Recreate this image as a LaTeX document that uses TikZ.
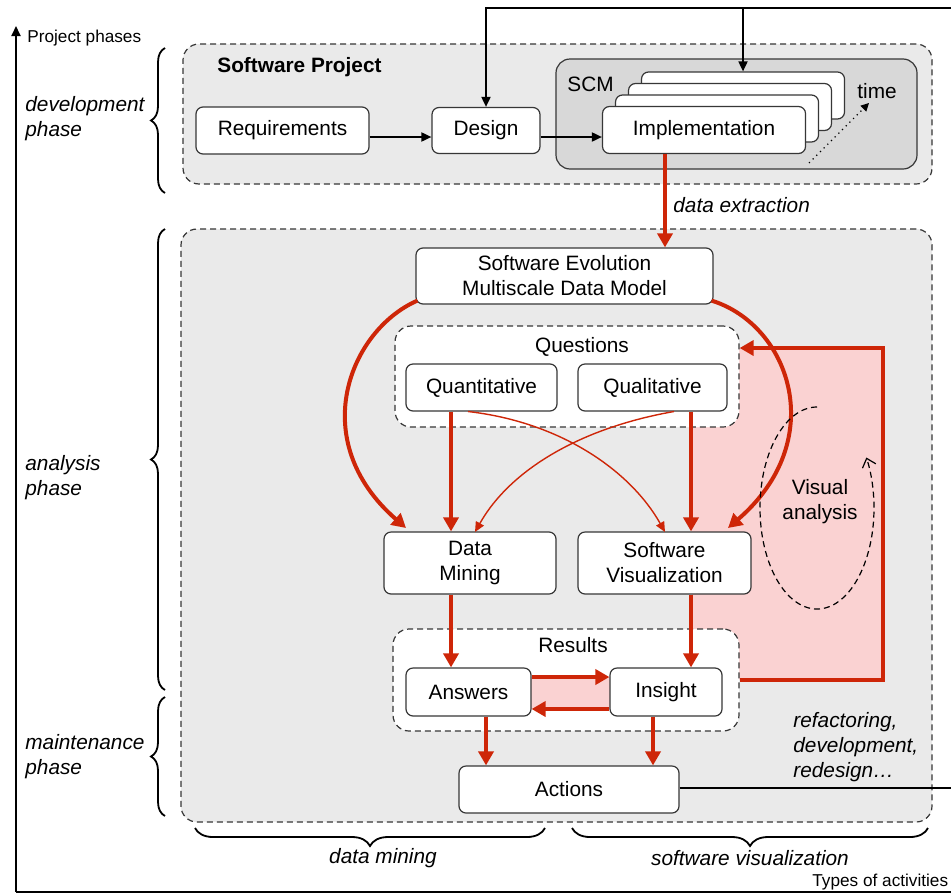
\documentclass[tikz,border=0pt]{standalone}
\usepackage{fontspec}
\setmainfont{Liberation Sans}
\usetikzlibrary{arrows.meta,decorations.pathreplacing}
\definecolor{myred}{RGB}{206,38,8}
\definecolor{bggray}{RGB}{234,234,234}
\definecolor{scmgray}{RGB}{216,216,216}
\definecolor{pinkfill}{RGB}{250,210,210}
\definecolor{edgec}{RGB}{55,55,55}
\newcommand\mainsz{\fontsize{10.4}{12.5}\selectfont}
\newcommand\smallsz{\fontsize{8.6}{10}\selectfont}
\begin{document}
\begin{tikzpicture}[x=0.5pt,y=-0.5pt,
  box/.style={draw=edgec,line width=0.6pt,fill=white,rounded corners=3.5pt,align=center,inner sep=0pt,font=\mainsz},
  grp/.style={draw=edgec,line width=0.6pt,dash pattern=on 3pt off 2pt,rounded corners=8pt,inner sep=0pt},
  redthick/.style={draw=myred,line width=2pt,-{Triangle[length=7pt,width=7.5pt]}},
  redline/.style={draw=myred,line width=2pt},
  redthin/.style={draw=myred,line width=0.7pt,-{Triangle[length=5pt,width=4.5pt]}},
  blk/.style={draw=black,line width=0.9pt,-{Triangle[length=5pt,width=4.5pt]}},
  lbl/.style={font=\mainsz\itshape,align=left,inner sep=0pt},
  brc/.style={decorate,decoration={brace,amplitude=7pt},line width=0.9pt},
]
\useasboundingbox (0,0) rectangle (951,894);
\fill[white] (0,0) rectangle (951,894);

% group boxes
\node[grp,fill=bggray,minimum width=374.5pt,minimum height=70pt] (devbox) at (557.5,114) {};
\node[grp,fill=bggray,minimum width=375.5pt,minimum height=296.5pt] (anbox) at (556.5,525.5) {};
\node[draw=edgec,line width=0.6pt,fill=scmgray,rounded corners=7pt,minimum width=180.5pt,minimum height=55pt,inner sep=0pt] (scm) at (736.5,114) {};

% pink area
\fill[pinkfill] (692,348) rectangle (883,680);

\node[grp,fill=white,minimum width=172pt,minimum height=50.5pt] (questions) at (567,376.5) {};
\node[grp,fill=white,minimum width=173pt,minimum height=51pt] (results) at (566,680) {};
\fill[pinkfill] (531,677) rectangle (610,709);

% texts in groups
\node[font=\mainsz\bfseries,anchor=west,inner sep=0pt] (swp) at (217,67) {Software Project};
\node[font=\mainsz,anchor=west,inner sep=0pt] (scmlbl) at (567,84) {SCM};
\node[font=\mainsz,inner sep=0pt] (timelbl) at (877,91) {time};
\node[font=\mainsz,inner sep=0pt] (qlbl) at (582,347) {Questions};
\node[font=\mainsz,inner sep=0pt] (rlbl) at (573,645) {Results};

% nodes
\node[box,minimum width=86.5pt,minimum height=23.5pt] (req) at (282.5,130.5) {Requirements};
\node[box,minimum width=54pt,minimum height=23pt] (design) at (486,130.5) {Design};
\node[box,minimum width=101.5pt,minimum height=23.5pt] (card4) at (743,95.5) {};
\node[box,minimum width=101.5pt,minimum height=23.5pt] (card3) at (730,107) {};
\node[box,minimum width=101.5pt,minimum height=23.5pt] (card2) at (717,118.5) {};
\node[box,minimum width=101.5pt,minimum height=23.5pt] (impl) at (704,130) {Implementation};

\node[box,minimum width=148.5pt,minimum height=28pt] (se) at (564.5,276) {Software Evolution\\Multiscale Data Model};
\node[box,minimum width=75.5pt,minimum height=23.5pt] (quant) at (481.5,387.5) {Quantitative};
\node[box,minimum width=74.5pt,minimum height=23.5pt] (qual) at (652.5,387.5) {Qualitative};
\node[box,minimum width=86pt,minimum height=31pt] (dm) at (470,563) {Data\\Mining};
\node[box,minimum width=86.5pt,minimum height=31pt] (sv) at (664.5,563) {Software\\Visualization};
\node[box,minimum width=62.5pt,minimum height=24pt] (answers) at (468.5,692) {Answers};
\node[box,minimum width=56pt,minimum height=24pt] (insight) at (666,692) {Insight};
\node[box,minimum width=110pt,minimum height=23.5pt] (actions) at (569,789.5) {Actions};

% labels
\node[lbl,anchor=west] (devlbl) at (25,118.5) {development\\phase};
\node[lbl,anchor=west] (anlbl) at (25,478) {analysis\\phase};
\node[lbl,anchor=west] (mtlbl) at (25,757) {maintenance\\phase};
\node[lbl,anchor=west] (dxlbl) at (673,205) {data extraction};
\node[lbl,anchor=west] (reflbl) at (793,747) {refactoring,\\development,\\redesign…};
\node[lbl,anchor=center] (dmlbl) at (383,858) {data mining};
\node[lbl,anchor=center] (svlbl) at (750,858) {software visualization};
\node[font=\mainsz,align=center,inner sep=0pt] (valbl) at (820,502) {Visual\\analysis};
\node[font=\smallsz,anchor=west,inner sep=0pt] (pplbl) at (27,38) {Project phases};
\node[font=\smallsz,anchor=west,inner sep=0pt] (tolbl) at (812,882) {Types of activities};

% coordinates
\coordinate (origin) at (16,892);
\coordinate (ytop) at (16,26);
\coordinate (xend) at (962,892);
\coordinate (tdes) at (486,8);
\coordinate (tstack) at (743,8);
\coordinate (tend) at (951,8);
\coordinate (row137) at (0,137);
\coordinate (cx665) at (665,0);
\coordinate (cx451) at (451,0);
\coordinate (cx691) at (691,0);
\coordinate (cx486) at (486,0);
\coordinate (cx653) at (653,0);
\coordinate (loopR) at (883,0);
\coordinate (row348) at (0,348);
\coordinate (row680) at (0,680);
\coordinate (row677) at (0,677);
\coordinate (row709) at (0,709);
\coordinate (rend) at (951,788);

% axes
\draw[blk] (origin) -- (ytop);
\draw[blk] (origin) -- (xend);

% black connectors
\draw[blk] (tend) -- (tdes) -- (design.north);
\draw[blk] (tstack) -- (card4.north);
\draw[blk] (req.east |- row137) -- (design.west |- row137);
\draw[blk] (design.east |- row137) -- (impl.west |- row137);
\draw[black,line width=1pt] (actions.east |- rend) -- (rend);
\draw[black,line width=0.6pt,dotted,-{Triangle[length=4pt,width=4pt]}] (809,163) -- (869,103);

% red connectors
\draw[redthick] (impl.south -| cx665) -- (se.north -| cx665);
\draw[redthick] ([xshift=1pt,yshift=2pt]se.south west) .. controls (350,330) and (305,440) .. (406,528);
\draw[redthick] ([xshift=-1pt,yshift=2pt]se.south east) .. controls (790,325) and (830,440) .. (728,528);
\draw[redthick] (quant.south -| cx451) -- (dm.north -| cx451);
\draw[redthick] (qual.south -| cx691) -- (sv.north -| cx691);
\draw[redthin] (468,411.5) .. controls (560,422) and (630,470) .. (665,532);
\draw[redthin] (674,411.5) .. controls (580,428) and (510,470) .. (475,532);
\draw[redthick] (dm.south -| cx451) -- (answers.north -| cx451);
\draw[redthick] (sv.south -| cx691) -- (insight.north -| cx691);
\draw[redthick] (answers.east |- row677) -- (insight.west |- row677);
\draw[redthick] (insight.west |- row709) -- (answers.east |- row709);
\draw[redthick] (answers.south -| cx486) -- (actions.north -| cx486);
\draw[redthick] (insight.south -| cx653) -- (actions.north -| cx653);
\draw[redthick] (results.east |- row680) -- (loopR |- row680) -- (loopR |- row348) -- (questions.east |- row348);

% visual analysis loop
\draw[black,line width=0.6pt,dash pattern=on 3pt off 2pt,-{Straight Barb[length=4pt,width=7pt]}] (817,407) arc[start angle=90,end angle=390,x radius=28.5pt,y radius=50.5pt];

% braces
\draw[brc] (165,193) -- (165,48);
\draw[brc] (165,690) -- (165,229);
\draw[brc] (165,816) -- (165,697);
\draw[brc,decoration={amplitude=9pt}] (545,828) -- (195,828);
\draw[brc,decoration={amplitude=9pt}] (928,828) -- (572,828);
\end{tikzpicture}
\end{document}
